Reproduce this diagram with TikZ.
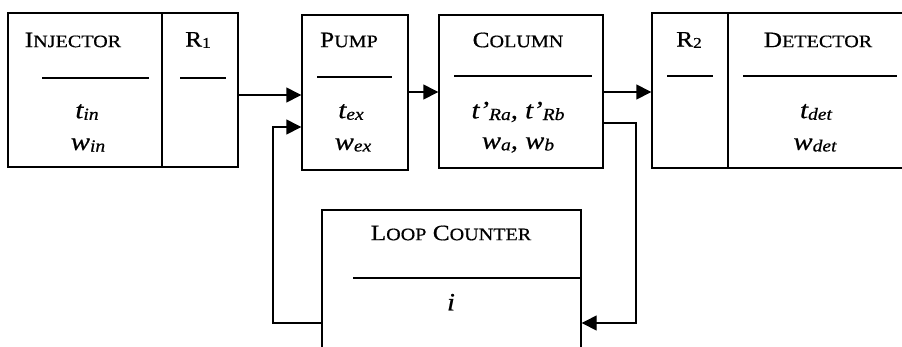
\documentclass[tikz,border=0pt]{standalone}
\usepackage{fontspec}
\setmainfont[FakeStretch=1.15,FakeBold=0.6]{Liberation Serif}
\usetikzlibrary{arrows.meta}
\newcommand\capsA[2]{{\fontsize{22}{26}\selectfont #1}{\fontsize{17.5}{21}\selectfont #2}}
\newcommand\vv[2]{{\fontsize{25}{29}\selectfont\itshape #1}\raisebox{-0.35ex}{\fontsize{17}{20}\selectfont\itshape #2}}
\newcommand\rsub[2]{{\fontsize{22}{26}\selectfont #1}\raisebox{-0.3ex}{\fontsize{15}{18}\selectfont #2}}
\begin{document}
\begin{tikzpicture}[x=1pt,y=-1pt,
  box/.style={draw,line width=1.4pt,inner sep=0pt,rectangle},
  rule/.style={line width=1.4pt},
  lbl/.style={inner sep=0pt,anchor=center},
  arr/.style={line width=1.4pt,-{Triangle[length=15pt,width=15pt]}}]
\useasboundingbox (0,0) rectangle (902,346);
% boxes
\node[box,minimum width=154pt,minimum height=154pt] (inj) at (85,90) {};
\node[box,minimum width=76pt,minimum height=154pt] (r1) at (200,90) {};
\node[box,minimum width=106pt,minimum height=155pt] (pump) at (355,92.5) {};
\node[box,minimum width=164pt,minimum height=153pt] (col) at (521,91.5) {};
\node[box,minimum width=76pt,minimum height=155pt] (r2) at (690,90.5) {};
\node[box,minimum width=180pt,minimum height=155pt] (det) at (818,90.5) {};
\node[box,minimum width=259pt,minimum height=150pt] (lc) at (451.5,285) {};
% header texts
\node[lbl] (tinj) at (73,40) {\capsA{I}{NJECTOR}};
\node[lbl] (tr1) at (198,40) {\rsub{R}{1}};
\node[lbl] (tpump) at (349,40) {\capsA{P}{UMP}};
\node[lbl] (tcol) at (518,40) {\capsA{C}{OLUMN}};
\node[lbl] (tr2) at (689,40) {\rsub{R}{2}};
\node[lbl] (tdet) at (818,40) {\capsA{D}{ETECTOR}};
\node[lbl] (tlc) at (451,233) {\capsA{L}{OOP}{\fontsize{22}{26}\selectfont\ }\capsA{C}{OUNTER}};
% rules
\draw[rule] (42,78) -- (149,78);
\draw[rule] (180,78) -- (226,78);
\draw[rule] (317,77) -- (392,77);
\draw[rule] (454,76) -- (592,76);
\draw[rule] (667,76) -- (713,76);
\draw[rule] (743,76) -- (897,76);
\draw[rule] (353,278) -- (lc.east |- 0,278);
% variables
\node[lbl] (vinj1) at (87,112) {\vv{t}{in}};
\node[lbl] (vinj2) at (88,145) {\vv{w}{in}};
\node[lbl] (vpump1) at (351,112) {\vv{t}{ex}};
\node[lbl] (vpump2) at (353,145) {\vv{w}{ex}};
\node[lbl] (vcol1) at (518,112) {\vv{t'}{Ra}\vv{, t'}{Rb}};
\node[lbl] (vcol2) at (518,145) {\vv{w}{a}\vv{, w}{b}};
\node[lbl] (vdet1) at (816,112) {\vv{t}{det}};
\node[lbl] (vdet2) at (815,145) {\vv{w}{det}};
\node[lbl] (vlc) at (451,303) {\vv{i}{}};
% connector helper coordinates
\coordinate (ya) at (0,95);
\coordinate (yb) at (0,127);
\coordinate (yc) at (0,92);
\coordinate (yd) at (0,123);
\coordinate (ye) at (0,323);
\coordinate (cr) at (636,123);
\coordinate (cl) at (273,323);
% connectors
\draw[arr] (r1.east |- ya) -- (pump.west |- ya);
\draw[arr] (pump.east |- yc) -- (col.west |- yc);
\draw[arr] (col.east |- yc) -- (r2.west |- yc);
\draw[arr] (col.east |- yd) -- (cr) -- (cr |- ye) -- (lc.east |- ye);
\draw[arr] (lc.west |- ye) -- (cl) -- (cl |- yb) -- (pump.west |- yb);
\end{tikzpicture}
\end{document}
